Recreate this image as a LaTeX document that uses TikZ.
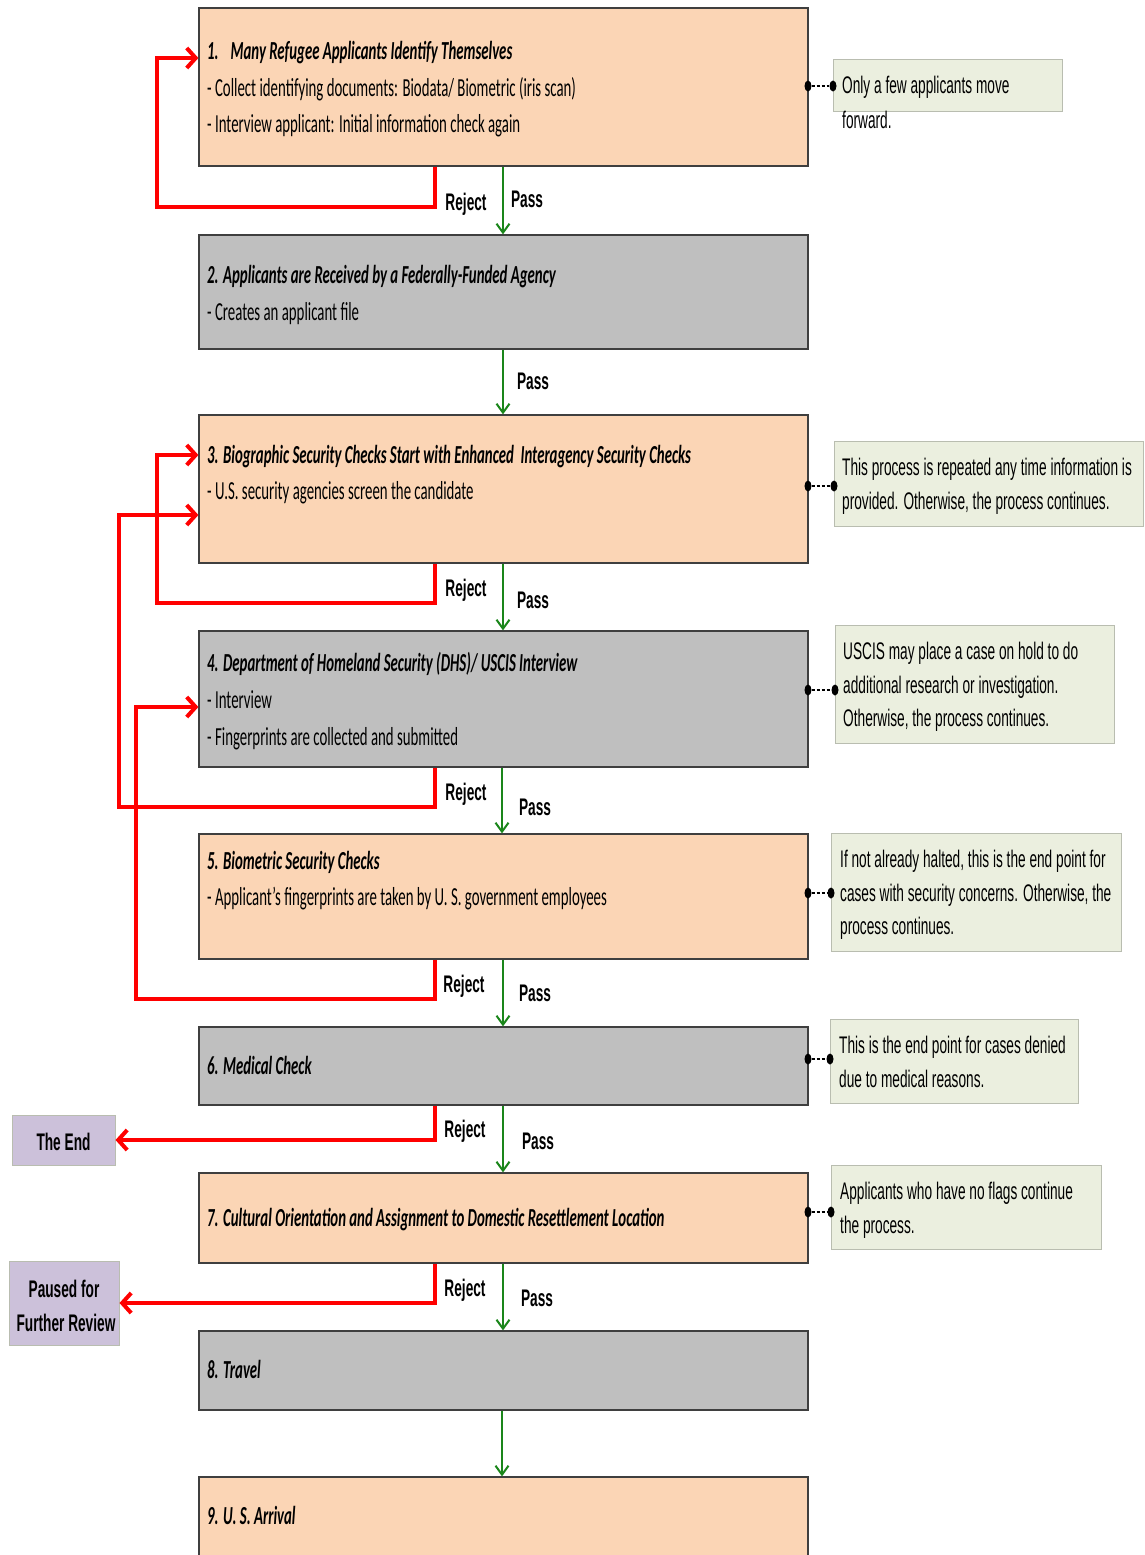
\documentclass[tikz,border=0pt]{standalone}
\usepackage{fontspec}
\setmainfont{Carlito}[FakeStretch=0.57]
\newfontfamily\notefont{Liberation Sans}[FakeStretch=0.57]
\usetikzlibrary{arrows.meta,shapes.geometric}

\definecolor{peach}{HTML}{FBD5B5}
\definecolor{stepgray}{HTML}{BFBFBF}
\definecolor{notefill}{HTML}{EBEFDF}
\definecolor{noteedge}{HTML}{B9BDB0}
\definecolor{lavender}{HTML}{CCC1DA}
\definecolor{edge}{HTML}{3F3F3F}
\definecolor{passgreen}{HTML}{1A861A}
\definecolor{rejectred}{HTML}{FF0000}

\tikzset{
  stepbox/.style={rectangle, draw=edge, line width=1.2pt, minimum width=609pt, inner sep=0pt},
  notebox/.style={rectangle, draw=noteedge, fill=notefill, line width=1pt, inner sep=0pt},
  endbox/.style={rectangle, draw=noteedge, fill=lavender, line width=1pt, inner sep=0pt},
  body/.style={anchor=mid west, inner sep=0pt, yshift=-4pt, font=\fontsize{26}{30}\selectfont},
  title/.style={anchor=mid west, inner sep=0pt, yshift=-4pt, font=\fontsize{26}{30}\selectfont\bfseries\itshape},
  flowlabel/.style={inner sep=0pt, font=\notefont\fontsize{24}{28}\selectfont\bfseries},
  endtext/.style={inner sep=0pt, font=\notefont\fontsize{24}{28}\selectfont\bfseries},
  notetext/.style={anchor=mid west, inner sep=0pt, yshift=-4pt, font=\notefont\fontsize{24}{28}\selectfont},
  pass/.style={draw=passgreen, line width=2pt,
    -{Straight Barb[length=9pt,width=13pt,line width=2pt]}},
  reject/.style={draw=rejectred, line width=4pt, line join=miter,
    -{Straight Barb[length=9pt,width=20pt,line width=4pt]}},
  dot/.style={ellipse, fill=black, minimum width=7pt, minimum height=11pt, inner sep=0pt},
  tie/.style={draw=black, line width=1.4pt, dash pattern=on 3pt off 2pt},
}

\begin{document}
\begin{tikzpicture}[x=1pt,y=-1pt]
\useasboundingbox (0,0) rectangle (1144,1555);

% main process steps
\node[stepbox, fill=peach,    minimum height=158pt] (b1) at (503.5,87)     {};
\node[stepbox, fill=stepgray, minimum height=114pt] (b2) at (503.5,292)    {};
\node[stepbox, fill=peach,    minimum height=148pt] (b3) at (503.5,489)    {};
\node[stepbox, fill=stepgray, minimum height=136pt] (b4) at (503.5,699)    {};
\node[stepbox, fill=peach,    minimum height=125pt] (b5) at (503.5,896.5)  {};
\node[stepbox, fill=stepgray, minimum height=78pt]  (b6) at (503.5,1066)   {};
\node[stepbox, fill=peach,    minimum height=90pt]  (b7) at (503.5,1218)   {};
\node[stepbox, fill=stepgray, minimum height=79pt]  (b8) at (503.5,1370.5) {};
\node[stepbox, fill=peach,    minimum height=90pt]  (b9) at (503.5,1522)   {};

% step texts
\node[title] (t1a) at (207,53) {1.\hspace{12pt}Many Refugee Applicants Identify Themselves};
\node[body]  (t1b) at (207,90) {- Collect identifying documents: Biodata/ Biometric (iris scan)};
\node[body]  (t1c) at (207,126) {- Interview applicant: Initial information check again};
\node[title] (t2a) at (207,277) {2. Applicants are Received by a Federally-Funded Agency};
\node[body]  (t2b) at (207,314) {- Creates an applicant file};
\node[title] (t3a) at (207,457) {3. Biographic Security Checks Start with Enhanced\ \ Interagency Security Checks};
\node[body]  (t3b) at (207,493) {- U.S. security agencies screen the candidate};
\node[title] (t4a) at (207,665) {4. Department of Homeland Security (DHS)/ USCIS Interview};
\node[body]  (t4b) at (207,702) {- Interview};
\node[body]  (t4c) at (207,739) {- Fingerprints are collected and submitted};
\node[title] (t5a) at (207,863) {5. Biometric Security Checks};
\node[body]  (t5b) at (207,899) {- Applicant’s fingerprints are taken by U. S. government employees};
\node[title] (t6a) at (207,1068) {6. Medical Check};
\node[title] (t7a) at (207,1220) {7. Cultural Orientation and Assignment to Domestic Resettlement Location};
\node[title] (t8a) at (207,1372) {8. Travel};
\node[title] (t9a) at (207,1518) {9. U. S. Arrival};

% side notes
\node[notebox, minimum width=229pt, minimum height=51pt]  (n1) at (947.5,85.5) {};
\node[notebox, minimum width=309pt, minimum height=85pt]  (n3) at (988.5,483.5) {};
\node[notebox, minimum width=279pt, minimum height=118pt] (n4) at (974.5,684) {};
\node[notebox, minimum width=290pt, minimum height=118pt] (n5) at (976,892) {};
\node[notebox, minimum width=248pt, minimum height=84pt]  (n6) at (954,1061) {};
\node[notebox, minimum width=270pt, minimum height=84pt]  (n7) at (966,1207) {};

\node[notetext] (m1a) at (842,87) {Only a few applicants move};
\node[notetext] (m1b) at (842,122) {forward.};
\node[notetext] (m3a) at (842,469) {This process is repeated any time information is};
\node[notetext] (m3b) at (842,503) {provided. Otherwise, the process continues.};
\node[notetext] (m4a) at (843,653) {USCIS may place a case on hold to do};
\node[notetext] (m4b) at (843,687) {additional research or investigation.};
\node[notetext] (m4c) at (843,720) {Otherwise, the process continues.};
\node[notetext] (m5a) at (840,861) {If not already halted, this is the end point for};
\node[notetext] (m5b) at (840,895) {cases with security concerns. Otherwise, the};
\node[notetext] (m5c) at (840,928) {process continues.};
\node[notetext] (m6a) at (839,1047) {This is the end point for cases denied};
\node[notetext] (m6b) at (839,1081) {due to medical reasons.};
\node[notetext] (m7a) at (840,1193) {Applicants who have no flags continue};
\node[notetext] (m7b) at (840,1227) {the process.};

% note ties
\node[dot] (d1a) at (808,86) {};   \node[dot] (d1b) at (833,86) {};
\node[dot] (d3a) at (808,486) {};  \node[dot] (d3b) at (834,486) {};
\node[dot] (d4a) at (808,690) {};  \node[dot] (d4b) at (835,690) {};
\node[dot] (d5a) at (808,893) {};  \node[dot] (d5b) at (831,893) {};
\node[dot] (d6a) at (808,1059) {}; \node[dot] (d6b) at (830,1059) {};
\node[dot] (d7a) at (808,1212) {}; \node[dot] (d7b) at (831,1212) {};
\draw[tie] (d1a) -- (d1b);
\draw[tie] (d3a) -- (d3b);
\draw[tie] (d4a) -- (d4b);
\draw[tie] (d5a) -- (d5b);
\draw[tie] (d6a) -- (d6b);
\draw[tie] (d7a) -- (d7b);

% terminal boxes
\node[endbox, minimum width=103pt, minimum height=50pt] (e1) at (63.5,1140) {};
\node[endtext] (e1t) at (63.5,1142) {The End};
\node[endbox, minimum width=110pt, minimum height=84pt] (e2) at (64,1303) {};
\node[endtext] (e2a) at (64,1289) {Paused for};
\node[endtext] (e2b) at (66,1323) {Further Review};

% pass connectors
\coordinate (gx) at (503,0);
\coordinate (gy) at (502,0);
\draw[pass] (b1.south -| gx) -- (b2.north -| gx);
\draw[pass] (b2.south -| gx) -- (b3.north -| gx);
\draw[pass] (b3.south -| gx) -- (b4.north -| gx);
\draw[pass] (b4.south -| gy) -- (b5.north -| gy);
\draw[pass] (b5.south -| gx) -- (b6.north -| gx);
\draw[pass] (b6.south -| gx) -- (b7.north -| gx);
\draw[pass] (b7.south -| gx) -- (b8.north -| gx);
\draw[pass] (b8.south -| gy) -- (b9.north -| gy);

% reject connectors
\coordinate (rx) at (435,0);
\coordinate (r1) at (157,207);
\coordinate (r3) at (157,603);
\coordinate (r4) at (119,807);
\coordinate (r5) at (136,999);
\draw[reject] (b1.south -| rx) |- (r1) |- (b1.west |- 0,58);
\draw[reject] (b3.south -| rx) |- (r3) |- (b3.west |- 0,455);
\draw[reject] (b4.south -| rx) |- (r4) |- (b3.west |- 0,515);
\draw[reject] (b5.south -| rx) |- (r5) |- (b4.west |- 0,707);
\draw[reject] (b6.south -| rx) |- (e1.east);
\draw[reject] (b7.south -| rx) |- (e2.east);

% labels
\node[flowlabel] (lr1) at (466,204) {Reject};
\node[flowlabel] (lp1) at (527,199) {Pass};
\node[flowlabel] (lp2) at (533,381) {Pass};
\node[flowlabel] (lr3) at (466,590) {Reject};
\node[flowlabel] (lp3) at (533,600) {Pass};
\node[flowlabel] (lr4) at (466,794) {Reject};
\node[flowlabel] (lp4) at (535,807) {Pass};
\node[flowlabel] (lr5) at (464,986) {Reject};
\node[flowlabel] (lp5) at (535,993) {Pass};
\node[flowlabel] (lr6) at (465,1131) {Reject};
\node[flowlabel] (lp6) at (538,1141) {Pass};
\node[flowlabel] (lr7) at (465,1290) {Reject};
\node[flowlabel] (lp7) at (537,1298) {Pass};
\end{tikzpicture}
\end{document}
